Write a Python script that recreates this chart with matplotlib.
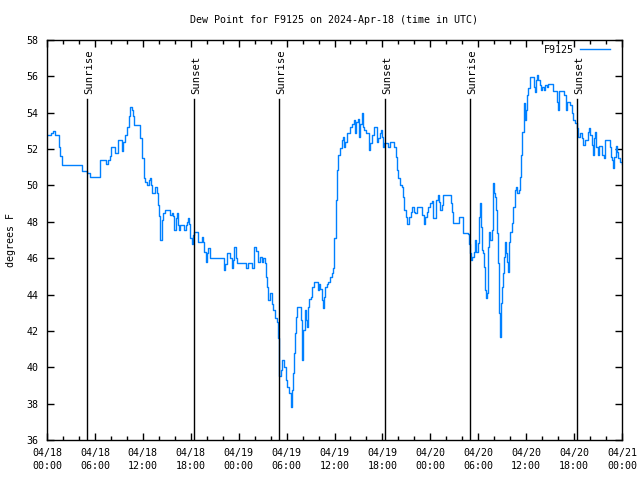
import matplotlib
matplotlib.use("Agg")
import matplotlib.pyplot as plt
from matplotlib.ticker import MultipleLocator

# ===============================
# Data (hours since 2024-04-18 00:00 UTC, dew point in F)
# ===============================
hours = [
    0.00, 0.50, 0.75, 1.00, 1.45, 1.60, 1.85, 4.13, 4.38, 5.01, 5.38, 6.51, 6.64, 7.14,
    7.39, 7.64, 7.89, 8.01, 8.39, 8.51, 8.89, 9.27, 9.39, 9.52, 9.77, 10.02, 10.27, 10.39,
    10.64, 10.77, 10.89, 11.52, 11.65, 11.90, 12.15, 12.27, 12.52, 12.77, 12.90, 13.02,
    13.15, 13.52, 13.77, 13.90, 14.00, 14.15, 14.40, 14.53, 14.78, 15.15, 15.40, 15.65,
    15.78, 15.90, 16.15, 16.28, 16.40, 16.53, 16.65, 17.16, 17.41, 17.53, 17.66, 17.78,
    17.91, 18.16, 18.28, 18.41, 18.66, 18.91, 19.41, 19.53, 19.66, 19.91, 20.03, 20.16,
    20.41, 22.16, 22.29, 22.54, 22.67, 22.92, 23.17, 23.29, 23.42, 23.67, 23.79, 24.67,
    24.92, 25.17, 25.67, 25.92, 26.17, 26.42, 26.67, 26.92, 27.05, 27.30, 27.42, 27.55,
    27.67, 27.92, 28.17, 28.30, 28.55, 28.80, 28.93, 29.00, 29.05, 29.30, 29.43, 29.68,
    29.93, 30.05, 30.30, 30.55, 30.68, 30.81, 30.93, 31.06, 31.18, 31.31, 31.68, 31.81,
    31.93, 32.06, 32.31, 32.43, 32.56, 32.68, 32.81, 33.06, 33.18, 33.43, 33.68, 33.93,
    34.06, 34.18, 34.44, 34.56, 34.69, 34.81, 35.06, 35.19, 35.44, 35.69, 35.81, 35.94,
    36.19, 36.31, 36.44, 36.69, 36.94, 37.07, 37.19, 37.32, 37.57, 37.94, 38.19, 38.44,
    38.57, 38.69, 38.94, 39.07, 39.19, 39.44, 39.57, 39.69, 39.94, 40.20, 40.32, 40.45,
    40.70, 40.95, 41.20, 41.32, 41.45, 41.70, 41.82, 41.95, 42.07, 42.20, 42.57, 42.70,
    42.95, 43.33, 43.45, 43.70, 43.83, 43.95, 44.20, 44.45, 44.58, 44.70, 44.95, 45.08,
    45.33, 45.58, 45.71, 45.96, 46.08, 46.33, 46.83, 46.96, 47.21, 47.33, 47.58, 47.71,
    47.96, 48.21, 48.34, 48.59, 48.71, 48.96, 49.09, 49.21, 49.46, 49.59, 50.34, 50.59,
    50.71, 50.84, 51.47, 51.59, 51.97, 52.10, 52.73, 52.85, 52.97, 53.10, 53.22, 53.47,
    53.60, 53.72, 53.97, 54.10, 54.22, 54.35, 54.47, 54.60, 54.72, 54.85, 54.97, 55.10,
    55.22, 55.35, 55.47, 55.72, 55.85, 55.98, 56.10, 56.23, 56.35, 56.48, 56.60, 56.73,
    56.85, 56.98, 57.10, 57.23, 57.35, 57.48, 57.60, 57.73, 57.85, 57.98, 58.23, 58.35,
    58.60, 58.73, 58.85, 59.10, 59.23, 59.35, 59.48, 59.73, 59.86, 59.98, 60.11, 60.23,
    60.48, 60.73, 60.98, 61.11, 61.23, 61.36, 61.48, 61.73, 61.86, 61.98, 62.23, 62.36,
    62.61, 62.73, 63.23, 63.36, 63.74, 63.86, 63.99, 64.11, 64.61, 64.74, 64.99, 65.11,
    65.49, 65.74, 65.87, 66.12, 66.37, 66.49, 66.74, 66.99, 67.12, 67.37, 67.74, 67.87,
    67.99, 68.24, 68.37, 68.49, 68.62, 68.75, 69.00, 69.12, 69.37, 69.50, 69.75, 69.87,
    70.25, 70.50, 70.62, 70.75, 70.87, 71.00, 71.25, 71.37, 71.50, 71.75, 72.00,
]
dew_point = [
    52.8, 52.9, 53.0, 52.8, 52.1, 51.6, 51.1, 51.1, 50.8, 50.7, 50.45, 50.45, 51.4, 51.4,
    51.2, 51.4, 51.6, 52.1, 52.1, 51.8, 52.5, 52.5, 51.9, 52.4, 52.8, 53.2, 53.8, 54.3,
    54.15, 53.8, 53.3, 53.3, 52.6, 51.5, 50.4, 50.2, 50.0, 50.3, 50.4, 50.0,
    49.6, 49.9, 49.6, 48.9, 48.3, 47.0, 48.1, 48.5, 48.65, 48.65, 48.4, 48.5,
    48.3, 47.55, 48.2, 48.5, 47.8, 47.55, 47.8, 47.55, 47.8, 48.0, 48.2, 47.9,
    47.1, 46.8, 47.3, 47.45, 47.45, 46.9, 47.15, 46.9, 46.35, 45.8, 46.3, 46.55,
    46.0, 45.35, 45.7, 46.3, 46.3, 46.0, 45.45, 45.9, 46.6, 46.0, 45.75, 45.75,
    45.45, 45.75, 45.45, 46.6, 46.4, 45.8, 46.05, 45.8, 46.0, 45.75, 44.95, 44.4,
    43.7, 44.1, 43.5, 43.15, 42.7, 42.5, 41.6, 40.95, 39.5, 39.85, 40.4, 40.0,
    39.3, 38.9, 38.6, 37.8, 38.75, 39.7, 40.8, 41.9, 42.75, 43.3, 43.3, 42.6,
    40.4, 42.05, 43.15, 42.6, 42.2, 43.3, 43.75, 43.85, 44.4, 44.7, 44.7, 44.25,
    44.6, 44.3, 43.7, 43.25, 43.85, 44.4, 44.6, 44.7, 44.95, 45.2, 45.45, 47.1,
    49.2, 50.85, 51.65, 52.05, 52.5, 52.65, 52.1, 52.4, 52.9, 53.2, 53.4, 53.6,
    52.9, 53.5, 53.65, 52.65, 53.4, 54.0, 53.2, 53.05, 52.9, 52.9, 51.95, 52.35,
    52.75, 53.2, 53.2, 52.4, 52.6, 52.9, 53.05, 52.65, 52.1, 52.35, 52.35, 52.1,
    52.4, 52.4, 52.1, 51.55, 50.85, 50.4, 50.0, 49.9, 49.35, 48.65, 48.25, 47.9,
    48.25, 48.55, 48.8, 48.55, 48.5, 48.8, 48.8, 48.35, 47.9, 48.25, 48.55, 48.8,
    49.05, 49.15, 48.2, 48.2, 49.2, 49.45, 49.1, 48.65, 48.9, 49.45, 49.5, 49.05,
    48.55, 47.95, 47.95, 48.25, 48.25, 47.4, 47.35, 46.8, 46.3, 45.9, 46.05, 46.35,
    47.0, 46.35, 46.85, 48.25, 49.05, 47.7, 46.45, 46.3, 45.5, 44.25, 43.8, 44.1,
    46.6, 47.45, 47.0, 47.55, 50.15, 49.6, 49.35, 48.65, 47.4, 45.75, 43.0, 41.65,
    43.55, 44.4, 45.2, 46.05, 46.9, 46.3, 45.8, 45.25, 46.9, 47.45, 47.95, 48.8,
    49.75, 49.9, 49.6, 49.75, 50.45, 51.65, 52.95, 54.55, 53.6, 54.15, 54.95, 55.35,
    55.95, 55.95, 55.4, 55.15, 55.8, 56.05, 55.8, 55.5, 55.25, 55.4, 55.25, 55.5,
    55.4, 55.6, 55.6, 55.2, 55.2, 54.6, 54.15, 55.2, 55.2, 54.95, 54.15, 54.6,
    54.4, 54.0, 53.6, 53.45, 53.15, 52.65, 52.9, 52.6, 52.2, 52.5, 52.95, 53.15,
    52.75, 52.2, 51.65, 52.6, 52.95, 52.1, 51.65, 52.15, 52.15, 51.65, 51.5, 52.5,
    52.5, 52.1, 51.55, 51.4, 50.95, 51.55, 52.15, 51.85, 51.5, 51.3, 51.2,
]

sunrise = [5.01, 29.05, 52.97]
sunset = [18.41, 42.32, 66.37]

tick_hours = [0, 6, 12, 18, 24, 30, 36, 42, 48, 54, 60, 66, 72]
tick_labels = [
    "04/18\n00:00", "04/18\n06:00", "04/18\n12:00", "04/18\n18:00",
    "04/19\n00:00", "04/19\n06:00", "04/19\n12:00", "04/19\n18:00",
    "04/20\n00:00", "04/20\n06:00", "04/20\n12:00", "04/20\n18:00",
    "04/21\n00:00",
]

# ===============================
# Plot
# ===============================
plt.rcParams["font.family"] = "DejaVu Sans Mono"
plt.rcParams["font.size"] = 7.2

fig = plt.figure(figsize=(6.4, 4.8), dpi=100)
ax = fig.add_axes([47 / 640, 40 / 480, 575 / 640, 400 / 480])

ax.plot(hours, dew_point, color="#0080ff", lw=1.0, drawstyle="steps-post", label="F9125")

line_top = (440 - 99) / 400
for h in sunrise:
    ax.axvline(h, ymin=0, ymax=line_top, color="black", lw=1.0)
    ax.text(h + 0.25, 36 + 22 * (line_top + 0.012), "Sunrise", rotation=90,
            ha="center", va="bottom", fontsize=7.6)
for h in sunset:
    ax.axvline(h, ymin=0, ymax=line_top, color="black", lw=1.0)
    ax.text(h + 0.25, 36 + 22 * (line_top + 0.012), "Sunset", rotation=90,
            ha="center", va="bottom", fontsize=7.6)

ax.set_xlim(0, 72)
ax.set_ylim(36, 58)
ax.set_xticks(tick_hours)
ax.set_xticklabels(tick_labels, linespacing=1.35)
ax.xaxis.set_minor_locator(MultipleLocator(2))
ax.yaxis.set_major_locator(MultipleLocator(2))

ax.tick_params(which="both", direction="in", top=True, right=True, width=1.0)
ax.tick_params(which="major", length=5, pad=6)
ax.tick_params(which="minor", length=3)
for s in ax.spines.values():
    s.set_linewidth(1.0)

ax.set_title("Dew Point for F9125 on 2024-Apr-18 (time in UTC)", fontsize=7.2, pad=12.5)
ax.set_ylabel("degrees F", labelpad=8)

ax.legend(loc="upper right", bbox_to_anchor=(0.986, 0.998), frameon=False,
          markerfirst=False, handlelength=3.0, handletextpad=0.6, borderaxespad=0,
          fontsize=7.2)

fig.savefig("out.png", dpi=100)
